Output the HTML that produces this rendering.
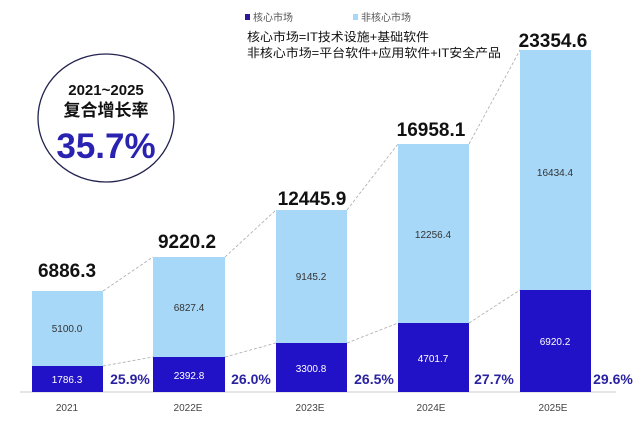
<!DOCTYPE html>
<html><head><meta charset="utf-8"><style>
body{margin:0;background:#fff}
svg text{font-family:"Liberation Sans","Noto Sans CJK SC",sans-serif}
</style></head><body>
<svg width="640" height="421" viewBox="0 0 640 421" xmlns="http://www.w3.org/2000/svg">
<rect width="640" height="421" fill="#fff"/>
<ellipse cx="106" cy="118" rx="68" ry="64" fill="none" stroke="#222250" stroke-width="1.3"/>
<text x="106" y="95" text-anchor="middle" font-size="15" font-weight="bold" fill="#111">2021~2025</text>
<text x="106" y="116" text-anchor="middle" font-size="17" font-weight="bold" fill="#111">复合增长率</text>
<text x="106" y="158" text-anchor="middle" font-size="35" font-weight="bold" fill="#2a22b0">35.7%</text>
<rect x="245" y="14" width="5" height="6" fill="#2a1a9a"/>
<text x="253" y="21" font-size="10" fill="#555">核心市场</text>
<rect x="353" y="14" width="5" height="6" fill="#a8d8f8"/>
<text x="361" y="21" font-size="10" fill="#555">非核心市场</text>
<text x="247" y="41" font-size="12" fill="#111" textLength="182" lengthAdjust="spacingAndGlyphs">核心市场=IT技术设施+基础软件</text>
<text x="247" y="57" font-size="12" fill="#111" textLength="254" lengthAdjust="spacingAndGlyphs">非核心市场=平台软件+应用软件+IT安全产品</text>
<line x1="20" y1="392" x2="616" y2="392" stroke="#ddd" stroke-width="1.5"/>
<g stroke="#aaa" stroke-width="0.8" stroke-dasharray="3,2" fill="none">
<path d="M103 291 L153 257 M225 257 L276 210 M347 210 L398 144 M469 144 L520 50"/>
<path d="M103 366 L153 357 M225 357 L276 343 M347 343 L398 323 M469 323 L520 290"/>
</g>
<g fill="#a8d8f8">
<rect x="32" y="291" width="71" height="101"/>
<rect x="153" y="257" width="72" height="135"/>
<rect x="276" y="210" width="71" height="182"/>
<rect x="398" y="144" width="71" height="248"/>
<rect x="520" y="50" width="71" height="342"/>
</g>
<g fill="#2112c8">
<rect x="32" y="366" width="71" height="26"/>
<rect x="153" y="357" width="72" height="35"/>
<rect x="276" y="343" width="71" height="49"/>
<rect x="398" y="323" width="71" height="69"/>
<rect x="520" y="290" width="71" height="102"/>
</g>
<g font-size="10" fill="#333" text-anchor="middle">
<text x="67" y="332">5100.0</text>
<text x="189" y="311">6827.4</text>
<text x="311" y="280">9145.2</text>
<text x="433" y="238">12256.4</text>
<text x="555" y="176">16434.4</text>
</g>
<g font-size="10" fill="#fff" text-anchor="middle">
<text x="67" y="383">1786.3</text>
<text x="189" y="379">2392.8</text>
<text x="311" y="372">3300.8</text>
<text x="433" y="362">4701.7</text>
<text x="555" y="345">6920.2</text>
</g>
<g font-size="19" font-weight="bold" fill="#111" text-anchor="middle">
<text x="67" y="277">6886.3</text>
<text x="187" y="248">9220.2</text>
<text x="312" y="205">12445.9</text>
<text x="431" y="136">16958.1</text>
<text x="553" y="47">23354.6</text>
</g>
<g font-size="14" font-weight="bold" fill="#2a22a0" text-anchor="middle">
<text x="130" y="384">25.9%</text>
<text x="251" y="384">26.0%</text>
<text x="374" y="384">26.5%</text>
<text x="494" y="384">27.7%</text>
<text x="613" y="384">29.6%</text>
</g>
<g font-size="10" fill="#444" text-anchor="middle">
<text x="67" y="411">2021</text>
<text x="188" y="411">2022E</text>
<text x="310" y="411">2023E</text>
<text x="431" y="411">2024E</text>
<text x="553" y="411">2025E</text>
</g>
</svg>
</body></html>
